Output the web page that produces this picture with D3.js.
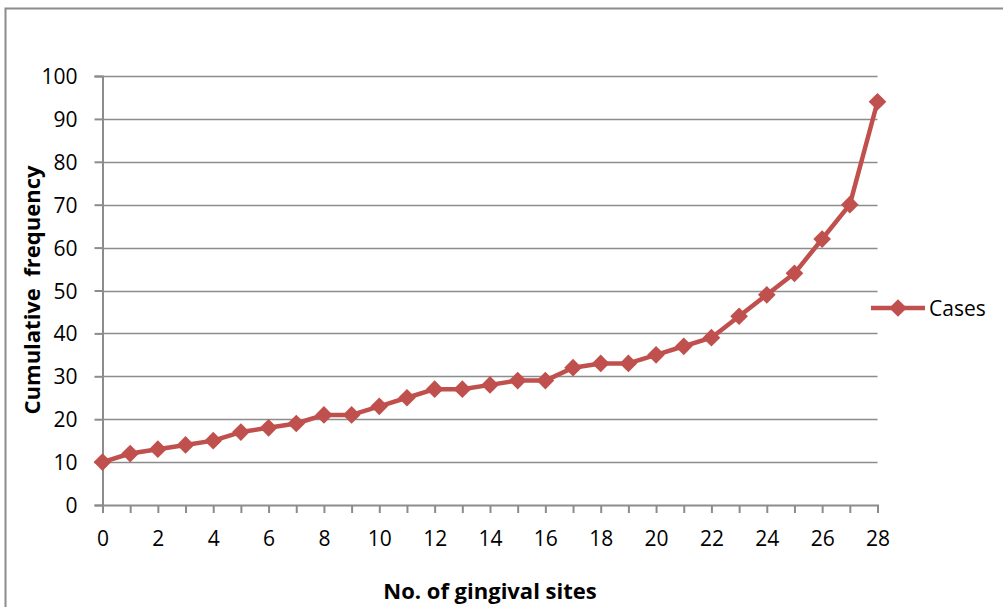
<!DOCTYPE html>
<html>
<head>
<meta charset="utf-8">
<script src="https://cdn.jsdelivr.net/npm/d3@7/dist/d3.min.js"></script>
<style>
  html, body { margin: 0; padding: 0; background: #fff; }
  svg { display: block; }
  text { font-family: "Open Sans", "Noto Sans", sans-serif; fill: #000; }
</style>
</head>
<body>
<svg id="chart" width="1003" height="607"></svg>
<script>
// Cumulative frequency of cases by number of gingival sites
const sites = d3.range(0, 29);
const cases = [10, 12, 13, 14, 15, 17, 18, 19, 21, 21, 23, 25, 27, 27, 28, 29, 29,
               32, 33, 33, 35, 37, 39, 44, 49, 54, 62, 70, 94];
const xTickValues = d3.range(0, 29, 2);
const yTickValues = d3.range(0, 101, 10);
const seriesName = "Cases";
const xTitle = "No. of gingival sites";
const yTitle = "Cumulative\u00a0 frequency";

const svg = d3.select("#chart");
const color = "#c0504d";
const gridColor = "#8c8c8c";

// outer chart border
svg.append("rect")
  .attr("x", 5.5).attr("y", 8.5)
  .attr("width", 1010).attr("height", 620)
  .attr("fill", "none").attr("stroke", "#8c8c8c").attr("stroke-width", 2);

const x = d3.scaleLinear().domain([0, 28]).range([102.5, 877.5]);
const y = d3.scaleLinear().domain([0, 100]).range([505, 76]);

// horizontal gridlines
svg.append("g")
  .selectAll("line")
  .data(yTickValues.filter(v => v > 0))
  .join("line")
  .attr("x1", x(0)).attr("x2", x(28))
  .attr("y1", d => Math.round(y(d)) + 0.5).attr("y2", d => Math.round(y(d)) + 0.5)
  .attr("stroke", gridColor).attr("stroke-width", 1.5);

// y axis
const yAxis = svg.append("g")
  .attr("transform", `translate(${x(0)},0)`)
  .call(d3.axisLeft(y).tickValues(yTickValues).tickSize(8).tickPadding(17).tickFormat(d3.format("d")));
yAxis.selectAll("text").style("font-size", "21px").attr("dy", "0.36em");

// x axis
const xAxis = svg.append("g")
  .attr("transform", `translate(0,${y(0)})`)
  .call(d3.axisBottom(x).tickValues(sites).tickSize(8).tickPadding(18)
    .tickFormat(d => d % 2 === 0 ? d : ""));
xAxis.selectAll("text").style("font-size", "21px");

[yAxis, xAxis].forEach(a => {
  a.select(".domain").attr("stroke", gridColor).attr("stroke-width", 2);
  a.selectAll(".tick line").attr("stroke", gridColor).attr("stroke-width", 2);
  a.selectAll("text").attr("fill", "#000").style("font-family", '"Open Sans", sans-serif');
});

// series line
const line = d3.line().x((d, i) => x(sites[i])).y(d => y(d));
svg.append("path")
  .datum(cases)
  .attr("d", line)
  .attr("fill", "none")
  .attr("stroke", color)
  .attr("stroke-width", 4.5)
  .attr("stroke-linejoin", "round");

// diamond markers
const diamond = d3.symbol().type(d3.symbolDiamond2).size(200);
svg.append("g")
  .selectAll("path")
  .data(cases)
  .join("path")
  .attr("transform", (d, i) => `translate(${x(sites[i])},${y(d)})`)
  .attr("d", diamond)
  .attr("fill", color);

// legend
const lg = svg.append("g").attr("transform", "translate(871,308)");
lg.append("line").attr("x1", 0).attr("x2", 54).attr("y1", 0).attr("y2", 0)
  .attr("stroke", color).attr("stroke-width", 4.5);
lg.append("path").attr("transform", "translate(27,0)").attr("d", diamond).attr("fill", color);
lg.append("text").attr("x", 58).attr("y", 0).attr("dy", "0.36em")
  .style("font-size", "21px").text(seriesName);

// axis titles
svg.append("text")
  .attr("x", 490).attr("y", 599)
  .attr("text-anchor", "middle")
  .style("font-size", "22px").style("font-weight", "bold")
  .text(xTitle);

svg.append("text")
  .attr("transform", "translate(40,290) rotate(-90)")
  .attr("text-anchor", "middle")
  .style("font-size", "22px").style("font-weight", "bold")
  .text(yTitle);
</script>
</body>
</html>
